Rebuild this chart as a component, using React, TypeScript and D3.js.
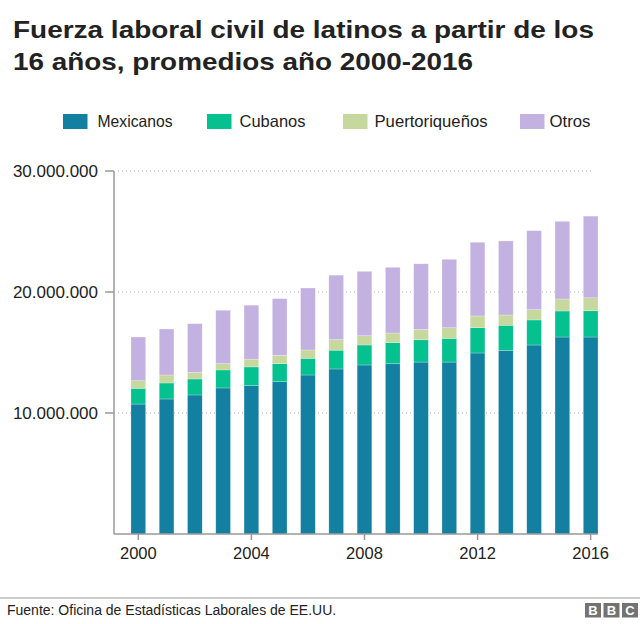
import React from "react";
import * as d3 from "d3";

const years = [2000, 2001, 2002, 2003, 2004, 2005, 2006, 2007, 2008, 2009, 2010, 2011, 2012, 2013, 2014, 2015, 2016];
const mexicanos = [10.74, 11.16, 11.49, 12.07, 12.26, 12.59, 13.14, 13.64, 13.97, 14.07, 14.21, 14.21, 14.96, 15.18, 15.62, 16.28, 16.28];
const cubanos = [1.3, 1.32, 1.32, 1.49, 1.55, 1.49, 1.38, 1.55, 1.65, 1.75, 1.84, 1.96, 2.09, 2.07, 2.07, 2.15, 2.17];
const puertorriquenos = [0.63, 0.66, 0.55, 0.52, 0.64, 0.69, 0.69, 0.88, 0.77, 0.79, 0.86, 0.88, 0.97, 0.85, 0.85, 0.99, 1.07];
const otros = [3.61, 3.8, 4.02, 4.41, 4.46, 4.68, 5.12, 5.32, 5.32, 5.43, 5.42, 5.65, 6.09, 6.12, 6.53, 6.42, 6.75];

const seriesKeys = ["Mexicanos", "Cubanos", "Puertoriqueños", "Otros"];
const seriesColors = ["#1380a1", "#05c08f", "#c6d89d", "#c3b1e1"];
const yTicks = [10000000, 20000000, 30000000];
const xTickYears = [2000, 2004, 2008, 2012, 2016];

const titleLines = ["Fuerza laboral civil de latinos a partir de los", "16 años, promedios año 2000-2016"];
const source = "Fuente: Oficina de Estadísticas Laborales de EE.UU.";

const W = 640;
const H = 624;
const M = { left: 114, right: 598, top: 171, bottom: 534 };

// layout (not data)
const titleWidths = [581, 460];
const legendSquareX = [63, 207, 343, 520];
const legendTextX = [97.5, 239.5, 374.5, 549.5];
const legendTextW = [75, 66, 113, 41];

export default function App() {
  const rows = years.map((y, i) => ({
    year: y,
    Mexicanos: mexicanos[i] * 1e6,
    Cubanos: cubanos[i] * 1e6,
    "Puertoriqueños": puertorriquenos[i] * 1e6,
    Otros: otros[i] * 1e6,
  }));
  const stack = d3.stack<any>().keys(seriesKeys);
  const layers = stack(rows);

  const x = d3
    .scaleBand<number>()
    .domain(years)
    .range([M.left, M.right])
    .paddingInner(0.48)
    .paddingOuter(0.3)
    .align(1);
  const y = d3.scaleLinear().domain([0, 30000000]).range([M.bottom, M.top]);
  const fmt = (v: number) => d3.format(",")(v).replace(/,/g, ".");

  const sans = "'Liberation Sans', Arial, Helvetica, sans-serif";

  return (
    <svg width={W} height={H} style={{ position: "absolute", left: 0, top: 0, background: "#fff" }}>
      {titleLines.map((t, i) => (
        <text
          key={i}
          x={13}
          y={37.5 + i * 32.7}
          fontFamily={sans}
          fontWeight="bold"
          fontSize={24}
          fill="#222"
          textLength={titleWidths[i]}
          lengthAdjust="spacingAndGlyphs"
        >
          {t}
        </text>
      ))}
      {seriesKeys.map((k, i) => (
        <g key={k}>
          <rect x={legendSquareX[i]} y={114} width={24.5} height={15} fill={seriesColors[i]} />
          <text
            x={legendTextX[i]}
            y={127}
            fontFamily={sans}
            fontSize={16.5}
            fill="#222"
            textLength={legendTextW[i]}
            lengthAdjust="spacingAndGlyphs"
          >
            {k}
          </text>
        </g>
      ))}
      {yTicks.map((t) => (
        <g key={t}>
          <line x1={M.left + 4} x2={594} y1={y(t)} y2={y(t)} stroke="#aaa" strokeWidth={1} strokeDasharray="1,3" />
          <line x1={M.left - 9} x2={M.left} y1={y(t)} y2={y(t)} stroke="#999" strokeWidth={1.5} />
          <text x={98} y={y(t) + 6} textAnchor="end" fontFamily={sans} fontSize={17} fill="#222">
            {fmt(t)}
          </text>
        </g>
      ))}
      {layers.map((layer, li) => (
        <g key={layer.key} fill={seriesColors[li]}>
          {layer.map((d: any) => (
            <rect
              key={d.data.year}
              x={x(d.data.year)}
              width={x.bandwidth()}
              y={y(d[1])}
              height={y(d[0]) - y(d[1])}
              stroke="rgba(255,255,255,0.4)"
              strokeWidth={0.6}
            />
          ))}
        </g>
      ))}
      <line x1={M.left} x2={M.left} y1={M.top} y2={M.bottom} stroke="#999" strokeWidth={1.5} />
      <line x1={M.left} x2={M.right} y1={M.bottom} y2={M.bottom} stroke="#999" strokeWidth={1.5} />
      {xTickYears.map((yr) => {
        const cx = (x(yr) as number) + x.bandwidth() / 2;
        return (
          <g key={yr}>
            <line x1={cx} x2={cx} y1={M.bottom} y2={M.bottom + 6} stroke="#999" strokeWidth={1.5} />
            <text x={cx} y={558.5} textAnchor="middle" fontFamily={sans} fontSize={16.5} fill="#222">
              {yr}
            </text>
          </g>
        );
      })}
      <line x1={0} x2={W} y1={598} y2={598} stroke="#999" strokeWidth={1} />
      <text x={7} y={614.5} fontFamily={sans} fontSize={14} fill="#222">
        {source}
      </text>
      {["B", "B", "C"].map((c, i) => (
        <g key={i}>
          <rect x={585 + i * 18.5} y={603} width={16} height={14.5} fill="#737373" />
          <text x={585 + i * 18.5 + 8} y={615} textAnchor="middle" fontFamily={sans} fontWeight="bold" fontSize={13} fill="#fff">
            {c}
          </text>
        </g>
      ))}
    </svg>
  );
}
